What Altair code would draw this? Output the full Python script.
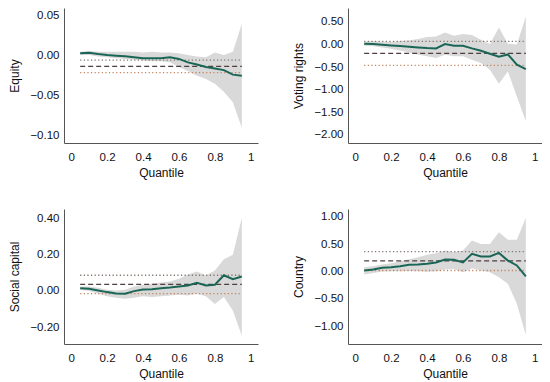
import altair as alt
import pandas as pd

quantiles = [0.05, 0.10, 0.15, 0.20, 0.25, 0.30, 0.35, 0.40, 0.45, 0.50,
             0.55, 0.60, 0.65, 0.70, 0.75, 0.80, 0.85, 0.90, 0.95]
x_ticks = [0, 0.2, 0.4, 0.6, 0.8, 1]

# Equity
eq_coef = [0.0030, 0.0038, 0.0021, 0.0009, 0.0000, -0.0008, -0.0020, -0.0033, -0.0033, -0.0033,
           -0.0020, -0.0040, -0.0083, -0.0110, -0.0140, -0.0160, -0.0180, -0.0236, -0.0250]
eq_upper = [0.005, 0.006, 0.005, 0.005, 0.005, 0.005, 0.005, 0.004, 0.005, 0.004,
            0.004, 0.003, 0.001, -0.001, -0.002, 0.004, 0.001, 0.005, 0.040]
eq_lower = [0.001, 0.001, -0.001, -0.002, -0.003, -0.004, -0.005, -0.006, -0.007, -0.007,
            -0.008, -0.014, -0.019, -0.025, -0.029, -0.035, -0.045, -0.058, -0.090]
eq_ols = [-0.0133, -0.0056, -0.0210]
eq_ticks = [0.05, 0.0, -0.05, -0.10]

# Voting rights
vr_coef = [0.018, 0.010, -0.004, -0.020, -0.033, -0.048, -0.063, -0.078, -0.085, 0.011,
           -0.026, -0.026, -0.085, -0.137, -0.204, -0.270, -0.218, -0.447, -0.543]
vr_upper = [0.062, 0.078, 0.060, 0.065, 0.078, 0.093, 0.122, 0.166, 0.180, 0.270,
            0.195, 0.233, 0.210, 0.106, 0.010, 0.380, 0.020, 0.000, 0.620]
vr_lower = [-0.026, -0.035, -0.063, -0.093, -0.130, -0.170, -0.225, -0.260, -0.300, -0.225,
            -0.260, -0.260, -0.337, -0.410, -0.560, -0.870, -0.595, -1.150, -1.700]
vr_ols = [-0.195, 0.07, -0.46]
vr_ticks = [0.5, 0.0, -0.5, -1.0, -1.5, -2.0]

# Social capital
sc_coef = [0.0155, 0.012, 0.003, -0.0065, -0.014, -0.0155, -0.001, 0.008, 0.010, 0.0155,
           0.019, 0.025, 0.030, 0.045, 0.030, 0.034, 0.087, 0.065, 0.080]
sc_upper = [0.025, 0.025, 0.018, 0.007, 0.003, 0.007, 0.025, 0.034, 0.040, 0.047,
            0.052, 0.067, 0.091, 0.108, 0.086, 0.113, 0.175, 0.200, 0.405]
sc_lower = [0.007, 0.000, -0.016, -0.029, -0.038, -0.043, -0.038, -0.029, -0.034, -0.029,
            -0.025, -0.021, -0.025, -0.016, -0.030, -0.072, -0.034, -0.108, -0.248]
sc_ols = [0.036, 0.087, -0.015]
sc_ticks = [0.4, 0.2, 0.0, -0.2]

# Country
c_coef = [0.018, 0.037, 0.067, 0.079, 0.097, 0.122, 0.128, 0.140, 0.165, 0.220,
          0.214, 0.165, 0.323, 0.274, 0.274, 0.341, 0.200, 0.110, -0.091]
c_upper = [0.079, 0.095, 0.128, 0.152, 0.189, 0.225, 0.262, 0.305, 0.335, 0.384,
           0.353, 0.384, 0.567, 0.506, 0.506, 0.720, 0.580, 0.580, 0.985]
c_lower = [-0.055, -0.030, 0.000, 0.006, 0.006, 0.010, 0.006, -0.006, 0.006, 0.037,
           0.045, -0.012, 0.061, 0.018, -0.012, -0.104, -0.225, -0.590, -1.170]
c_ols = [0.195, 0.366, 0.018]
c_ticks = [1.0, 0.5, 0.0, -0.5, -1.0]

FONT = "Liberation Sans"
BAND = "#d9d9d9"
LINE = "#1a6656"


def panel(title, coef, upper, lower, ols, domain, ticks):
    df = pd.DataFrame({"q": quantiles, "coef": coef, "upper": upper, "lower": lower})
    xs = alt.Scale(domain=[-0.04, 1.04], nice=False, zero=False)
    ys = alt.Scale(domain=domain, nice=False, zero=False)
    xax = alt.Axis(values=x_ticks, format="~g", title="Quantile")
    yax = alt.Axis(values=ticks, format=".2f", title=title)

    def X(f):
        return alt.X(f, scale=xs, axis=xax, title="Quantile")

    def Y(f):
        return alt.Y(f, scale=ys, axis=yax, title=title)

    band = alt.Chart(df).mark_area(color=BAND, opacity=1).encode(
        x=X("q:Q"), y=Y("lower:Q"), y2="upper:Q")

    def rule(val, color, dash, width):
        rdf = pd.DataFrame({"x": [quantiles[0]], "x2": [quantiles[-1]], "y": [val]})
        return alt.Chart(rdf).mark_rule(color=color, strokeDash=dash, strokeWidth=width).encode(
            x=X("x:Q"), x2="x2:Q", y=Y("y:Q"))

    r_mid = rule(ols[0], "#4f3f3f", [5, 3], 1.3)
    r_hi = rule(ols[1], "#7f736c", [1.2, 2.4], 1.3)
    r_lo = rule(ols[2], "#c4825a", [1.2, 2.4], 1.3)

    line = alt.Chart(df).mark_line(color=LINE, strokeWidth=2).encode(
        x=X("q:Q"), y=Y("coef:Q"))

    return alt.layer(band, r_hi, r_lo, r_mid, line).properties(width=194, height=135)


p1 = panel("Equity", eq_coef, eq_upper, eq_lower, eq_ols, [-0.109, 0.0596], eq_ticks)
p2 = panel("Voting rights", vr_coef, vr_upper, vr_lower, vr_ols, [-2.18, 0.81], vr_ticks)
p3 = panel("Social capital", sc_coef, sc_upper, sc_lower, sc_ols, [-0.294, 0.454], sc_ticks)
p4 = panel("Country", c_coef, c_upper, c_lower, c_ols, [-1.33, 1.146], c_ticks)

chart = alt.concat(p1, p2, p3, p4, columns=2, spacing={"row": 66, "column": 90}, bounds="flush").properties(
    padding={"left": 0, "top": 0, "right": 0, "bottom": 0}
).configure_view(strokeWidth=0).configure_axis(
    domainColor="#555555", domainWidth=1, ticks=False, grid=False,
    labelFont=FONT, titleFont=FONT, labelFontSize=11.5, titleFontSize=12,
    titleFontWeight="normal", labelColor="#111111", titleColor="#111111"
).configure_axisX(labelPadding=8, titlePadding=5).configure_axisY(labelPadding=5, titlePadding=8)

chart.save("out.html", embed_options={"renderer": "svg", "actions": False})
